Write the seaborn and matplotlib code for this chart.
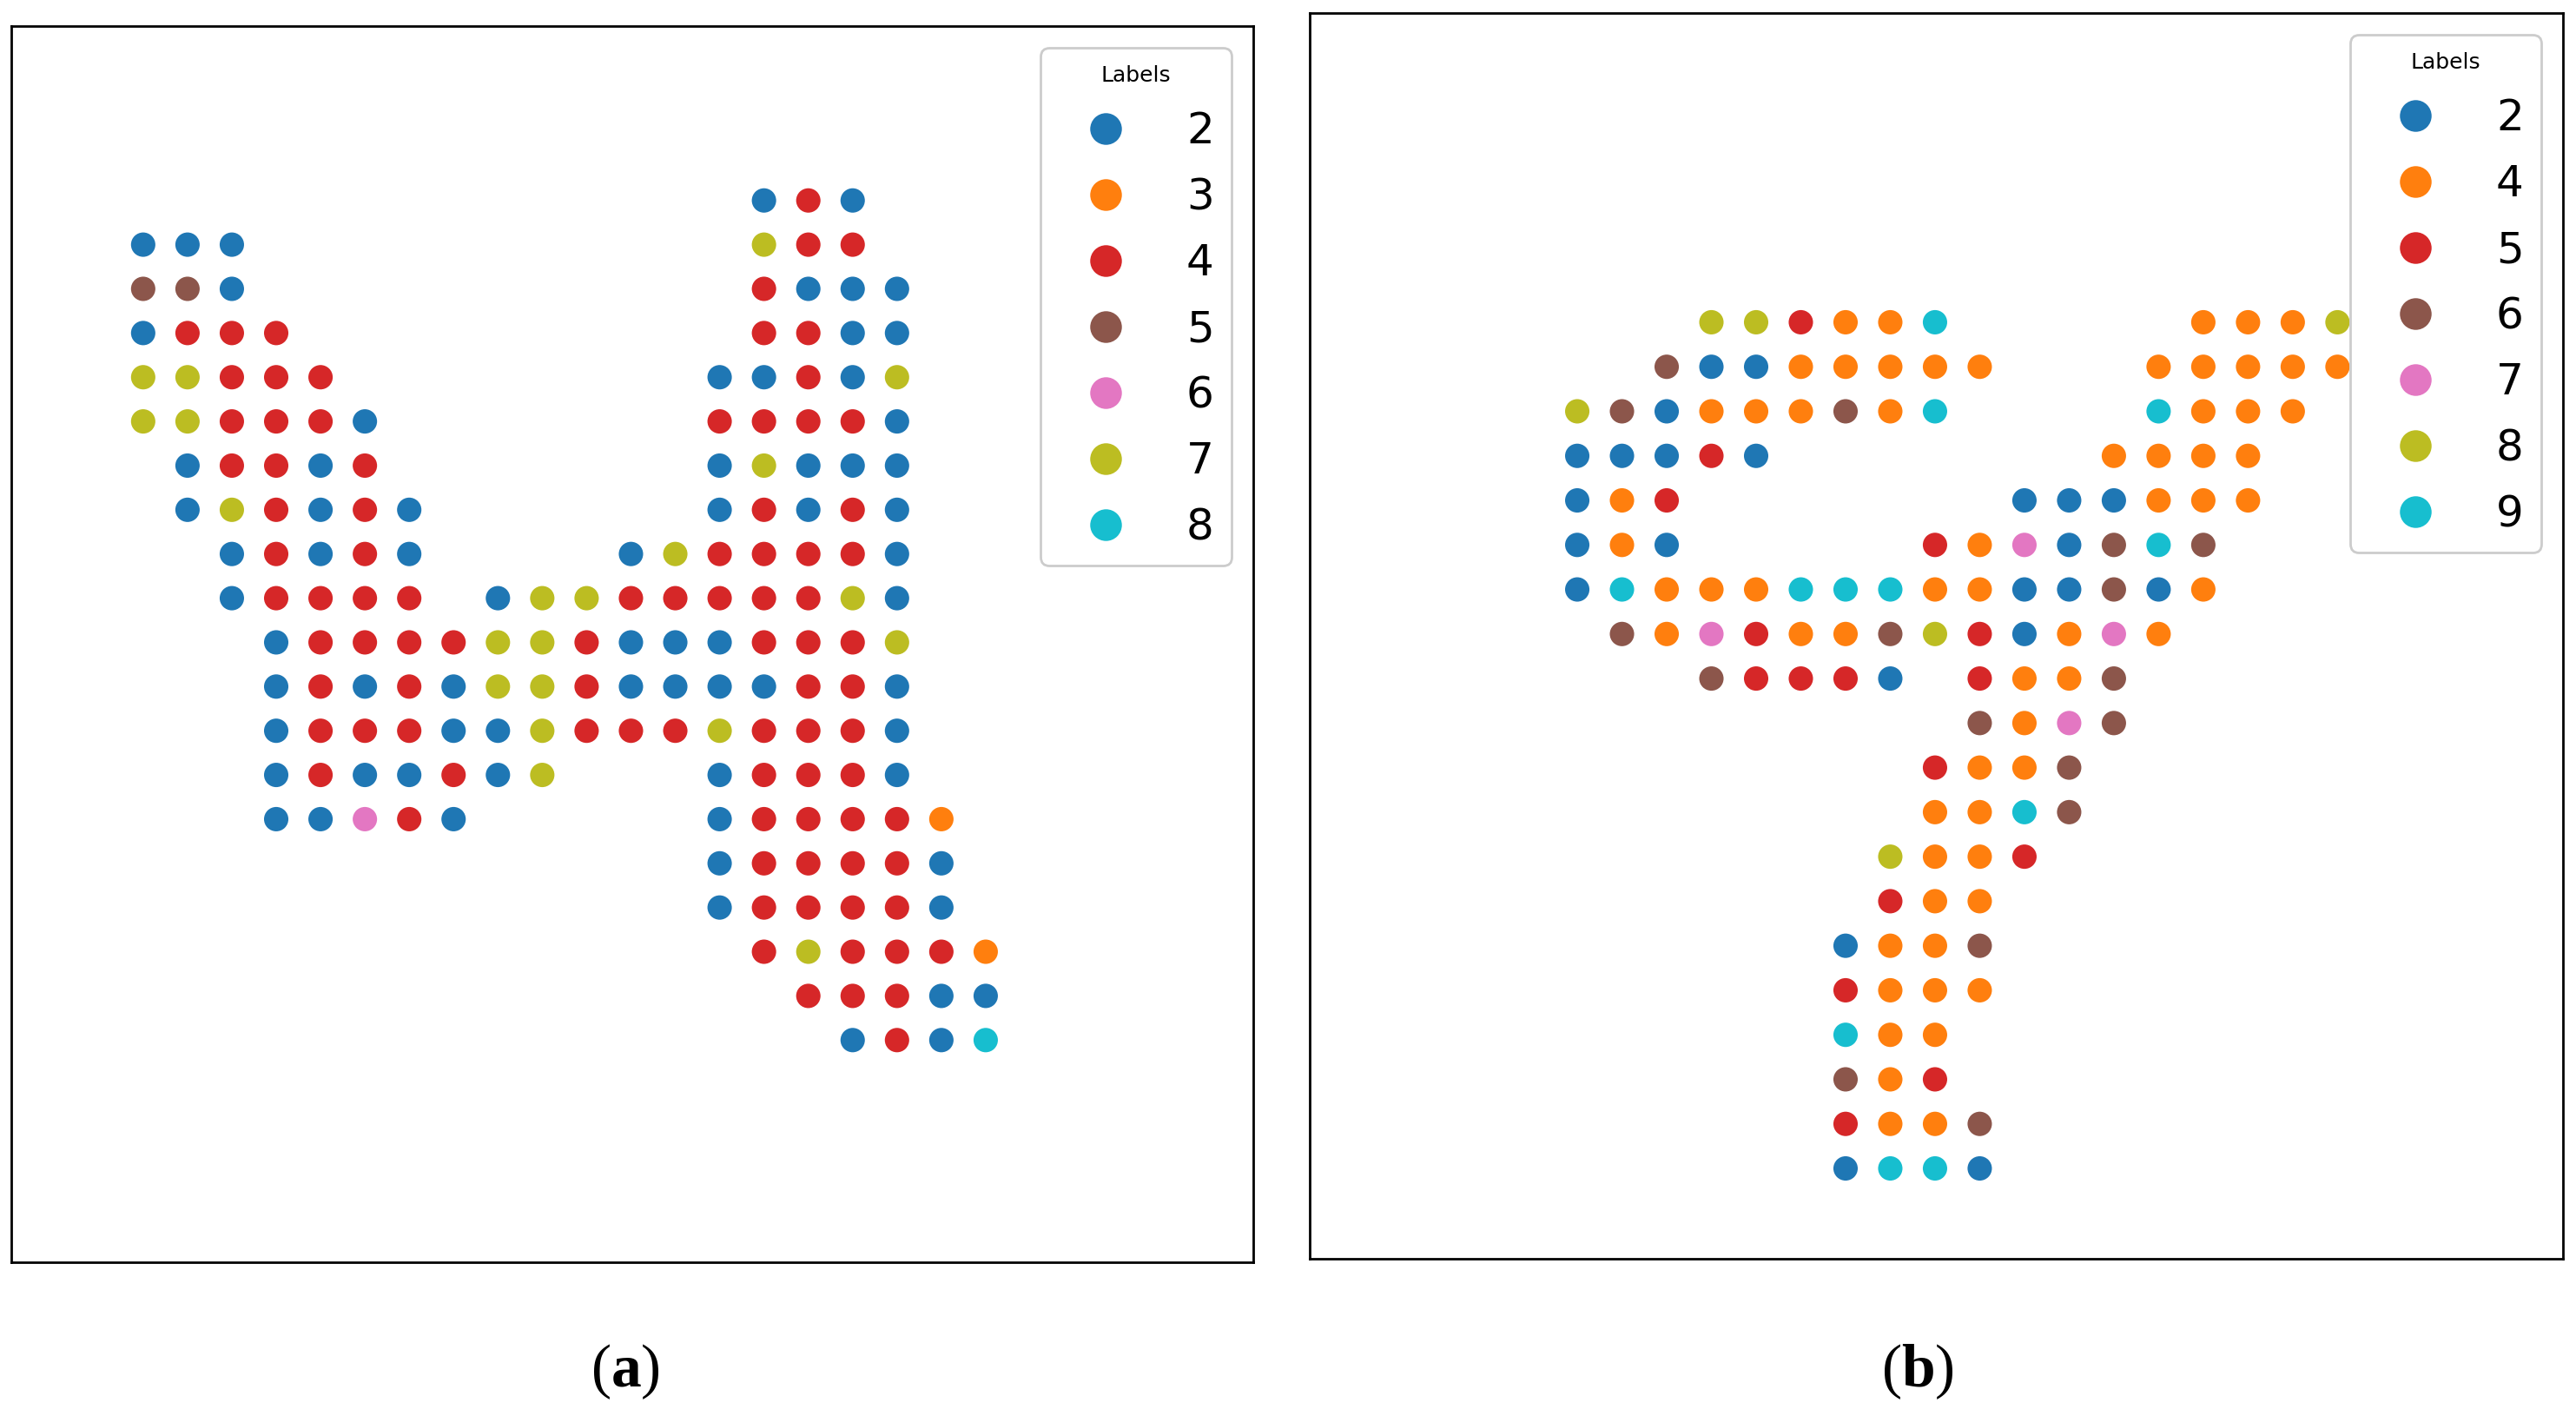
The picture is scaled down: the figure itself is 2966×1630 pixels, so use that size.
import pandas as pd
import seaborn as sns
import matplotlib.pyplot as plt

# spot grids: one string per row, one char per column
# "." = no spot, digit = cluster label
GRID_A = [
    "..............242...",
    "222...........744...",
    "552...........4222..",
    "2444..........4422..",
    "77444........22427..",
    "774442.......44442..",
    ".24424.......27222..",
    ".274242......24242..",
    "..24242....2744442..",
    "..24444.2774444472..",
    "...244447742224447..",
    "...242427742222442..",
    "...244422744474442..",
    "...2422427...24442..",
    "...22642.....244443.",
    ".............244442.",
    ".............244442.",
    "..............474443",
    "...............44422",
    "................2428",
]

GRID_B = [
    "...885449.....4448",
    "..62244444...44444",
    "862444649....9444.",
    "22252.......4444..",
    "245.......222444..",
    "242.....5472696...",
    "294449994422624...",
    ".6475446852474....",
    "...65552.5446.....",
    ".........6476.....",
    "........5446......",
    "........4496......",
    ".......8445.......",
    ".......544........",
    "......2446........",
    "......5444........",
    "......944.........",
    "......645.........",
    "......5446........",
    "......2992........",
]

LABELS_A = ["2", "3", "4", "5", "6", "7", "8"]
LABELS_B = ["2", "4", "5", "6", "7", "8", "9"]
COLORS = ["#1f77b4", "#ff7f0e", "#d62728", "#8c564b", "#e377c2", "#bcbd22", "#17becf"]

PANEL_TAGS = ["a", "b"]


def grid_to_df(grid):
    """Turn the text grid into a long table of spots"""
    spots = []
    for r, line in enumerate(grid):
        for c, ch in enumerate(line):
            if ch != ".":
                spots.append({"x": c, "y": r, "Labels": ch})
    return pd.DataFrame(spots)


def draw_panel(ax, grid, labels, xlim, ylim):
    df = grid_to_df(grid)
    sns.scatterplot(
        data=df, x="x", y="y", hue="Labels", hue_order=labels,
        palette=dict(zip(labels, COLORS)), s=102, linewidth=0, ax=ax
    )
    ax.set_xlim(*xlim)
    ax.set_ylim(*ylim)
    ax.set_xticks([])
    ax.set_yticks([])
    ax.set_xlabel("")
    ax.set_ylabel("")
    for sp in ax.spines.values():
        sp.set_color("black")
        sp.set_linewidth(1.0)
    sns.move_legend(
        ax, "upper right", title="Labels", fontsize=18, title_fontsize=9,
        markerscale=1.3, labelspacing=0.56, handlelength=2.2, handletextpad=0.75,
        framealpha=1, borderaxespad=0.5
    )


sns.set_theme(style="white", rc={"axes.edgecolor": "black", "text.color": "black"})
plt.rcParams["mathtext.fontset"] = "custom"
plt.rcParams["mathtext.rm"] = "Liberation Serif"
plt.rcParams["mathtext.bf"] = "Liberation Serif:bold"

fig = plt.figure(figsize=(14.83, 8.15), dpi=200)
ax_a = fig.add_axes([0.00445, 0.1088, 0.4820, 0.8726])
ax_b = fig.add_axes([0.5083, 0.1110, 0.4866, 0.8797])

draw_panel(ax_a, GRID_A, LABELS_A, (-2.97, 25.03), (24.02, -3.94))
draw_panel(ax_b, GRID_B, LABELS_B, (-5.99, 22.04), (21.03, -6.94))

for xpos, tag in zip([0.2428, 0.7444], PANEL_TAGS):
    fig.text(xpos, 0.0313, "($\\mathbf{" + tag + "}$)", ha="center", va="center",
             fontsize=25, family="Liberation Serif")

fig.savefig("out.png", dpi=200)
